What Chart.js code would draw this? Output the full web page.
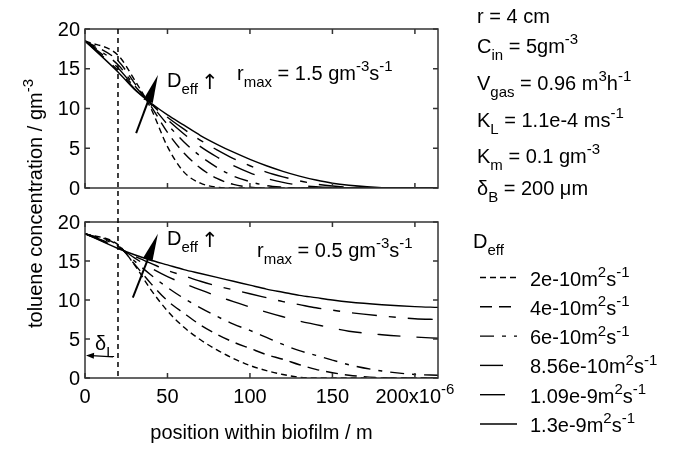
<!DOCTYPE html>
<html>
<head>
<meta charset="utf-8">
<script src="https://cdn.jsdelivr.net/npm/chart.js@4.4.1/dist/chart.umd.min.js"></script>
<style>
  html, body { margin: 0; padding: 0; background: #fff; }
  #wrap { position: relative; width: 693px; height: 449px; }
  canvas { position: absolute; left: 0; top: 0; }
</style>
</head>
<body>
<div id="wrap">
  <canvas id="topChart" width="693" height="449"></canvas>
  <canvas id="bottomChart" width="693" height="449"></canvas>
</div>
<script>
// --- DADOS (posição em µm, concentração em g/m3) ---
const positions = [0, 20, 30, 40, 50, 60, 70, 80, 90, 100, 110, 120, 130, 140, 150, 160, 180, 200, 214];

// painel de cima: r_max = 1.5
const top2e10  = [18.5, 16.7, 13.6, 10.0, 5.2, 2.0, 0.6, 0.1, 0, 0, 0, 0, 0, 0, 0, 0, 0, 0, 0];
const top4e10  = [18.5, 16.0, 13.2, 10.3, 7.0, 4.4, 2.5, 1.2, 0.45, 0.1, 0, 0, 0, 0, 0, 0, 0, 0, 0];
const top6e10  = [18.5, 15.5, 12.9, 10.5, 8.0, 5.8, 4.0, 2.6, 1.5, 0.8, 0.3, 0.1, 0, 0, 0, 0, 0, 0, 0];
const top856e10 = [18.5, 15.1, 12.7, 10.6, 8.6, 6.8, 5.2, 3.9, 2.8, 1.9, 1.2, 0.7, 0.35, 0.15, 0.05, 0, 0, 0, 0];
const top109e9 = [18.5, 14.8, 12.5, 10.65, 8.9, 7.4, 6.0, 4.8, 3.7, 2.8, 2.0, 1.4, 0.9, 0.5, 0.25, 0.1, 0, 0, 0];
const top13e9  = [18.5, 14.6, 12.4, 10.7, 9.2, 7.9, 6.6, 5.5, 4.5, 3.6, 2.8, 2.1, 1.5, 1.0, 0.6, 0.35, 0.05, 0, 0];

// painel de baixo: r_max = 0.5
const bot2e10  = [18.5, 17.1, 14.5, 11.3, 8.6, 6.5, 4.9, 3.6, 2.5, 1.6, 0.95, 0.45, 0.1, 0, 0, 0, 0, 0, 0];
const bot4e10  = [18.5, 17.0, 14.6, 12.1, 9.9, 8.3, 6.8, 5.6, 4.6, 3.8, 3.0, 2.4, 1.7, 1.1, 0.68, 0.35, 0.05, 0, 0];
const bot6e10  = [18.5, 16.9, 15.0, 13.2, 11.6, 10.2, 9.0, 7.9, 6.9, 6.1, 5.2, 4.3, 3.5, 2.9, 2.3, 1.7, 0.9, 0.45, 0.35];
const bot856e10 = [18.5, 16.8, 15.4, 14.1, 13.0, 12.1, 11.3, 10.5, 9.8, 9.1, 8.45, 7.85, 7.3, 6.85, 6.4, 6.0, 5.55, 5.25, 5.1];
const bot109e9 = [18.5, 16.7, 15.6, 14.7, 13.8, 13.1, 12.4, 11.8, 11.3, 10.8, 10.3, 9.8, 9.4, 9.0, 8.7, 8.4, 7.95, 7.6, 7.5];
const bot13e9  = [18.5, 16.6, 15.8, 15.1, 14.5, 13.9, 13.4, 12.9, 12.4, 11.9, 11.4, 11.0, 10.6, 10.3, 10.0, 9.75, 9.4, 9.15, 9.05];

const deffLabels = ['2e-10', '4e-10', '6e-10', '8.56e-10', '1.09e-9', '1.3e-9'];
const yTicks = [0, 5, 10, 15, 20];
const xTicks = [0, 50, 100, 150, 200];
const xTickLabels = ['0', '50', '100', '150', '200x10'];
const xTickExp = '-6';

// estilos das linhas (um por D_eff)
const dashes = [[6, 4], [12, 7], [14, 8, 4, 8], [23, 16], [25, 12, 7, 12], []];

const FONT = '"Liberation Sans", Arial, Helvetica, sans-serif';
const INK = '#000';
const FRAME = '#333';

// texto com índices / expoentes: parts = [[texto, '' | 'sub' | 'sup'], ...]
function richText(ctx, parts, x, y, size, align) {
    const small = Math.round(size * 0.74);
    let w = 0;
    parts.forEach(p => {
        ctx.font = (p[1] ? small : size) + 'px ' + FONT;
        w += ctx.measureText(p[0]).width;
    });
    let cx = x;
    if (align === 'center') cx = x - w / 2;
    if (align === 'right') cx = x - w;
    ctx.textAlign = 'left';
    ctx.textBaseline = 'alphabetic';
    parts.forEach(p => {
        ctx.font = (p[1] ? small : size) + 'px ' + FONT;
        let dy = 0;
        if (p[1] === 'sub') dy = size * 0.33;
        if (p[1] === 'sup') dy = -size * 0.43;
        ctx.fillText(p[0], cx, y + dy);
        cx += ctx.measureText(p[0]).width;
    });
    return w;
}

function drawArrow(ctx, x1, y1, x2, y2, headLen, headHalf, lw) {
    const a = Math.atan2(y2 - y1, x2 - x1);
    const c = Math.cos(a), s = Math.sin(a);
    ctx.lineWidth = lw;
    ctx.setLineDash([]);
    ctx.beginPath();
    ctx.moveTo(x1, y1);
    ctx.lineTo(x2 - headLen * 0.7 * c, y2 - headLen * 0.7 * s);
    ctx.stroke();
    ctx.beginPath();
    ctx.moveTo(x2, y2);
    ctx.lineTo(x2 - headLen * c + headHalf * s, y2 - headLen * s - headHalf * c);
    ctx.lineTo(x2 - headLen * c - headHalf * s, y2 - headLen * s + headHalf * c);
    ctx.closePath();
    ctx.fill();
}

function makeDatasets(series) {
    return series.map((vals, i) => ({
        label: deffLabels[i],
        data: positions.map((x, j) => ({ x: x, y: vals[j] })),
        borderColor: INK,
        borderWidth: 1.4,
        borderDash: dashes[i],
        pointRadius: 0,
        fill: false,
        cubicInterpolationMode: 'monotone'
    }));
}

// moldura, ticks para dentro e rótulos
const framePlugin = {
    id: 'frame',
    afterDatasetsDraw(chart, args, opts) {
        const ctx = chart.ctx;
        const a = chart.chartArea;
        const sx = chart.scales.x, sy = chart.scales.y;
        const tl = 5;
        ctx.save();
        ctx.strokeStyle = FRAME;
        ctx.lineWidth = 1.5;
        ctx.setLineDash([]);
        ctx.strokeRect(a.left, a.top, a.right - a.left, a.bottom - a.top);
        ctx.beginPath();
        xTicks.forEach(v => {
            const px = sx.getPixelForValue(v);
            ctx.moveTo(px, a.bottom); ctx.lineTo(px, a.bottom - tl);
            ctx.moveTo(px, a.top); ctx.lineTo(px, a.top + tl);
        });
        yTicks.forEach(v => {
            const py = sy.getPixelForValue(v);
            ctx.moveTo(a.left, py); ctx.lineTo(a.left + tl, py);
            ctx.moveTo(a.right, py); ctx.lineTo(a.right - tl, py);
        });
        ctx.stroke();

        ctx.fillStyle = INK;
        ctx.font = '20px ' + FONT;
        ctx.textAlign = 'right';
        ctx.textBaseline = 'middle';
        yTicks.forEach(v => ctx.fillText(String(v), a.left - 5, sy.getPixelForValue(v) + 1));

        if (opts.xLabels) {
            xTicks.forEach((v, i) => {
                const px = sx.getPixelForValue(v);
                const parts = [[xTickLabels[i], '']];
                if (i === xTicks.length - 1) parts.push([xTickExp, 'sup']);
                richText(ctx, parts, px, a.bottom + 25, 20, 'center');
            });
        }
        ctx.restore();
    }
};

// anotações do painel de cima
const topNotes = {
    id: 'topNotes',
    afterDatasetsDraw(chart) {
        const ctx = chart.ctx;
        const sx = chart.scales.x, sy = chart.scales.y;
        ctx.save();
        ctx.fillStyle = INK;
        ctx.strokeStyle = INK;
        drawArrow(ctx, sx.getPixelForValue(31), sy.getPixelForValue(6.9),
            sx.getPixelForValue(44.2), sy.getPixelForValue(14.2), 28, 5, 2);
        richText(ctx, [['D', ''], ['eff', 'sub']], 167, 87, 20, 'left');
        ctx.font = '21px "DejaVu Sans", ' + FONT;
        ctx.fillText('\u2191', 201, 89);
        richText(ctx, [['r', ''], ['max', 'sub'], [' = 1.5 gm', ''], ['-3', 'sup'], ['s', ''], ['-1', 'sup']], 237, 80, 20, 'left');
        ctx.restore();
    }
};

// anotações do painel de baixo + textos de fora
const bottomNotes = {
    id: 'bottomNotes',
    afterDatasetsDraw(chart) {
        const ctx = chart.ctx;
        const a = chart.chartArea;
        const sx = chart.scales.x, sy = chart.scales.y;
        const topArea = topChart.chartArea;
        ctx.save();
        ctx.fillStyle = INK;
        ctx.strokeStyle = INK;

        // espessura do filme líquido
        const xd = sx.getPixelForValue(20);
        ctx.lineWidth = 1.5;
        ctx.setLineDash([5, 4]);
        ctx.beginPath();
        ctx.moveTo(xd, topArea.top);
        ctx.lineTo(xd, a.bottom);
        ctx.stroke();
        ctx.setLineDash([]);

        drawArrow(ctx, sx.getPixelForValue(29), sy.getPixelForValue(10.3),
            sx.getPixelForValue(44.2), sy.getPixelForValue(18.5), 28, 5, 2);
        richText(ctx, [['D', ''], ['eff', 'sub']], 167, 245, 20, 'left');
        ctx.font = '21px "DejaVu Sans", ' + FONT;
        ctx.fillText('\u2191', 201, 247);
        richText(ctx, [['r', ''], ['max', 'sub'], [' = 0.5 gm', ''], ['-3', 'sup'], ['s', ''], ['-1', 'sup']], 257, 257, 20, 'left');

        drawArrow(ctx, sx.getPixelForValue(17), sy.getPixelForValue(2.7),
            sx.getPixelForValue(0.6), sy.getPixelForValue(2.9), 8, 3, 1.3);
        richText(ctx, [['\u03b4', ''], ['L', 'sub']], 95, 350, 20, 'left');

        // títulos dos eixos
        richText(ctx, [['position within biofilm / m', '']], (a.left + a.right) / 2, 439, 20, 'center');
        ctx.save();
        ctx.translate(42, (topArea.top + a.bottom) / 2);
        ctx.rotate(-Math.PI / 2);
        richText(ctx, [['toluene concentration / gm', ''], ['-3', 'sup']], 0, 0, 20, 'center');
        ctx.restore();

        // parâmetros
        const params = [
            [['r = 4 cm', '']],
            [['C', ''], ['in', 'sub'], [' = 5gm', ''], ['-3', 'sup']],
            [['V', ''], ['gas', 'sub'], [' = 0.96 m', ''], ['3', 'sup'], ['h', ''], ['-1', 'sup']],
            [['K', ''], ['L', 'sub'], [' = 1.1e-4 ms', ''], ['-1', 'sup']],
            [['K', ''], ['m', 'sub'], [' = 0.1 gm', ''], ['-3', 'sup']],
            [['\u03b4', ''], ['B', 'sub'], [' = 200 \u03bcm', '']]
        ];
        const paramY = [23, 53, 90, 127, 163, 195];
        params.forEach((p, i) => richText(ctx, p, 477, paramY[i], 20, 'left'));

        // legenda
        richText(ctx, [['D', ''], ['eff', 'sub']], 473, 248, 20, 'left');
        chart.data.datasets.forEach((ds, i) => {
            const yb = 285.5 + i * 29.3;
            ctx.lineWidth = 1.4;
            ctx.setLineDash(ds.borderDash);
            ctx.beginPath();
            ctx.moveTo(480, yb - 8);
            ctx.lineTo(517, yb - 8);
            ctx.stroke();
            ctx.setLineDash([]);
            richText(ctx, [[ds.label + 'm', ''], ['2', 'sup'], ['s', ''], ['-1', 'sup']], 530, yb, 20, 'left');
        });
        ctx.restore();
    }
};

function panelOptions(padding, xLabels) {
    return {
        responsive: false,
        animation: false,
        events: [],
        layout: { padding: padding },
        scales: {
            x: { type: 'linear', min: 0, max: 214, display: false },
            y: { type: 'linear', min: 0, max: 20, display: false }
        },
        plugins: {
            legend: { display: false },
            tooltip: { enabled: false },
            frame: { xLabels: xLabels }
        }
    };
}

const topChart = new Chart(document.getElementById('topChart').getContext('2d'), {
    type: 'line',
    data: { datasets: makeDatasets([top2e10, top4e10, top6e10, top856e10, top109e9, top13e9]) },
    options: panelOptions({ left: 85, right: 255, top: 29, bottom: 261 }, false),
    plugins: [framePlugin, topNotes]
});

const bottomChart = new Chart(document.getElementById('bottomChart').getContext('2d'), {
    type: 'line',
    data: { datasets: makeDatasets([bot2e10, bot4e10, bot6e10, bot856e10, bot109e9, bot13e9]) },
    options: panelOptions({ left: 85, right: 255, top: 222, bottom: 71 }, true),
    plugins: [framePlugin, bottomNotes]
});
</script>
</body>
</html>
